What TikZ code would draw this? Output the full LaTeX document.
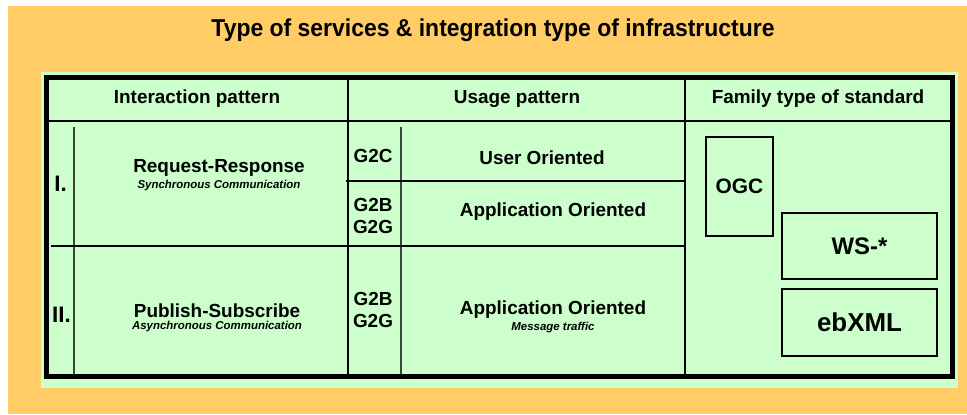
\documentclass[tikz,border=0pt]{standalone}
\usepackage{fontspec}
\setmainfont{Liberation Sans}
\definecolor{bgorange}{HTML}{FFCC66}
\definecolor{panelgreen}{HTML}{CCFFCC}
\definecolor{rulegray}{HTML}{3A463A}
\begin{document}
\begin{tikzpicture}[x=1bp,y=-1bp,
  title/.style={font=\bfseries\fontsize{24.5}{27}\selectfont, inner sep=0pt},
  lbl/.style={font=\bfseries\fontsize{19}{23}\selectfont, inner sep=0pt, align=center},
  roman/.style={font=\bfseries\fontsize{22.5}{25}\selectfont, inner sep=0pt, anchor=base},
  sub/.style={font=\bfseries\itshape\fontsize{11.5}{13}\selectfont, inner sep=0pt},
  stdbox/.style={draw, line width=1.6bp, inner sep=0pt, font=\bfseries}
]
\useasboundingbox (0,0) rectangle (967,414);
% backgrounds
\fill[bgorange] (8,6) rectangle (967,414);
\fill[panelgreen] (41,72) rectangle (958,388);

% title
\node[title, anchor=base] (ttl) at (493,36) {\scalebox{0.94}[1]{Type of services \& integration type of infrastructure}};

% table grid
\draw[line width=2bp] (46.5,121) -- (952.5,121);
\draw[line width=2.2bp] (348,77.5) -- (348,376);
\draw[line width=2.2bp] (685,77.5) -- (685,376);
\draw[line width=1.5bp, rulegray] (74,127) -- (74,376);
\draw[line width=1.5bp, rulegray] (401,127) -- (401,376);
\draw[line width=1.2bp] (346,181) -- (685,181);
\draw[line width=1.2bp] (51,246) -- (685,246);
\draw[line width=5bp] (46.5,77.5) rectangle (952.5,376);

% header row
\node[lbl] (hint) at (197,99) {Interaction pattern};
\node[lbl] (huse) at (517,99) {Usage pattern};
\node[lbl] (hfam) at (818,99) {Family type of standard};

% row I
\node[roman] (r1) at (60.5,191.5) {I.};
\node[lbl] (reqresp) at (219,168) {Request-Response};
\node[sub] (sync) at (219,186) {Synchronous Communication};
\node[lbl] (g2c) at (373,156) {G2C};
\node[lbl] (g2b1) at (373,216) {G2B\\G2G};
\node[lbl] (user) at (542,158) {User Oriented};
\node[lbl] (app1) at (553,212) {Application Oriented};

% row II
\node[roman] (r2) at (61.5,322.5) {II.};
\node[lbl] (pubsub) at (217,311) {Publish-Subscribe};
\node[sub] (async) at (217,327) {Asynchronous Communication};
\node[lbl] (g2b2) at (373,310) {G2B\\G2G};
\node[lbl] (app2) at (553,310) {Application Oriented};
\node[sub] (msg) at (553,328) {Message traffic};

% standard families
\node[stdbox, minimum width=67bp, minimum height=99bp, font=\bfseries\fontsize{21}{24}\selectfont] (ogc) at (739.5,186.5) {OGC};
\node[stdbox, minimum width=155bp, minimum height=66bp, font=\bfseries\fontsize{24}{26}\selectfont] (ws) at (859.5,246) {WS-*};
\node[stdbox, minimum width=155bp, minimum height=67bp, font=\bfseries\fontsize{26}{28}\selectfont] (ebxml) at (859.5,322.5) {ebXML};
\end{tikzpicture}
\end{document}
